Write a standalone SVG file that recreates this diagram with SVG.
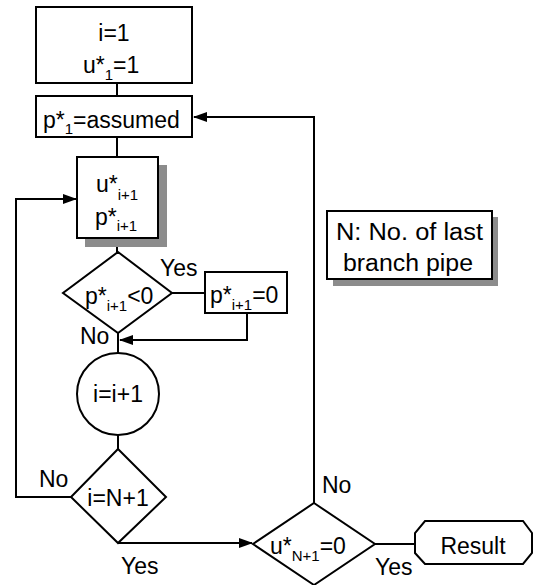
<svg xmlns="http://www.w3.org/2000/svg" width="540" height="585" viewBox="0 0 540 585">
<style>
.s{fill:#fff;stroke:#000;stroke-width:2}
.sh{fill:#8c8c8c;stroke:none}
.c{fill:none;stroke:#000;stroke-width:2}
text{font-family:"Liberation Sans",Arial,sans-serif;font-size:23px;fill:#000}
tspan{fill:#000}
.sub{font-size:15px}
.m{text-anchor:middle}
</style>
<defs>
<marker id="ah" markerWidth="14" markerHeight="10" refX="13" refY="5" orient="auto" markerUnits="userSpaceOnUse">
<path d="M0,0 L14,5 L0,10 z" fill="#000"/>
</marker>
</defs>
<rect width="540" height="585" fill="#fff"/>
<g id="connectors">
<line class="c" x1="117" y1="83" x2="117" y2="96"/>
<line class="c" x1="117" y1="137" x2="117" y2="157"/>
<line class="c" x1="117" y1="238" x2="117" y2="252"/>
<line class="c" x1="172" y1="293" x2="205" y2="293"/>
<polyline class="c" points="247,313 247,340 120,340" marker-end="url(#ah)"/>
<line class="c" x1="118" y1="333" x2="118" y2="353"/>
<line class="c" x1="118" y1="435" x2="118" y2="449"/>
<polyline class="c" points="71,497 16,497 16,199 76,199" marker-end="url(#ah)"/>
<polyline class="c" points="118,543 252,543" marker-end="url(#ah)"/>
<polyline class="c" points="314,503 314,117 194,117" marker-end="url(#ah)"/>
<line class="c" x1="375" y1="544" x2="415" y2="544"/>
</g>
<g id="init">
<rect class="s" x="36" y="7" width="156" height="76"/>
<text class="m" x="114" y="41" font-size="22">i=1</text>
<text x="83" y="73" font-size="22">u*<tspan class="sub" dy="7">1</tspan><tspan dy="-7">=1</tspan></text>
</g>
<g id="assume">
<rect class="s" x="36" y="96" width="156" height="41"/>
<text x="43" y="128" font-size="24">p*<tspan class="sub" dy="6">1</tspan><tspan dy="-6">=assumed</tspan></text>
</g>
<g id="calc">
<rect class="sh" x="85" y="165" width="82" height="82"/>
<rect class="s" x="77" y="157" width="81" height="81"/>
<text x="96" y="192">u*<tspan class="sub" dy="8">i+1</tspan></text>
<text x="95" y="225">p*<tspan class="sub" dy="6">i+1</tspan></text>
</g>
<g id="check-p">
<polygon class="s" points="118,252 172,293 118,333 63,293"/>
<text x="85" y="304">p*<tspan class="sub" dy="7">i+1</tspan><tspan dy="-7">&lt;0</tspan></text>
<text x="160" y="276" font-size="22">Yes</text>
<text x="80" y="344" font-size="22">No</text>
</g>
<g id="set-p">
<rect class="s" x="205" y="272" width="82" height="41"/>
<text x="210" y="303">p*<tspan class="sub" dy="7">i+1</tspan><tspan dy="-7">=0</tspan></text>
</g>
<g id="increment">
<circle class="s" cx="118" cy="394" r="41"/>
<text class="m" x="118" y="402" font-size="24">i=i+1</text>
</g>
<g id="check-i">
<polygon class="s" points="118,449 166,497 118,543 71,497"/>
<text class="m" x="118" y="506" font-size="22">i=N+1</text>
<text x="39" y="487" font-size="22">No</text>
<text x="121" y="574" font-size="22">Yes</text>
</g>
<g id="check-u">
<polygon class="s" points="314,503 375,544 314,585 253,544"/>
<text x="270" y="554">u*<tspan class="sub" dy="7">N+1</tspan><tspan dy="-7">=0</tspan></text>
<text x="322" y="493" font-size="22">No</text>
<text x="375" y="575" font-size="22">Yes</text>
</g>
<g id="result">
<polygon class="s" points="425,521 523,521 532,533 532,553 523,564 425,564 415,553 415,533"/>
<text class="m" x="473" y="554" font-size="24">Result</text>
</g>
<g id="note">
<rect class="sh" x="333" y="217" width="165" height="69"/>
<rect class="s" x="327" y="211" width="165" height="68"/>
<text x="336" y="240" font-size="24" textLength="147" lengthAdjust="spacingAndGlyphs">N: No. of last</text>
<text x="343" y="271" font-size="24" textLength="130" lengthAdjust="spacingAndGlyphs">branch pipe</text>
</g>
</svg>
